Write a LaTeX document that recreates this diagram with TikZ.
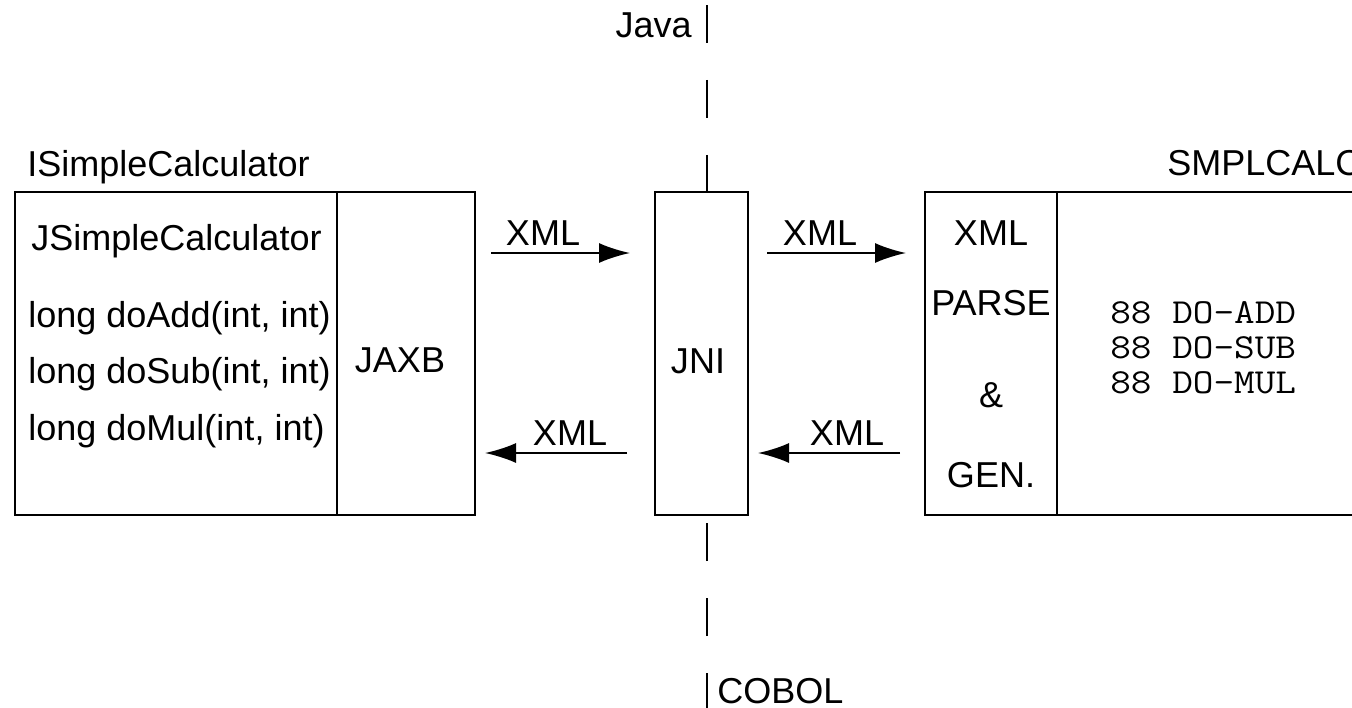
\documentclass[tikz,border=0pt]{standalone}
\usepackage{fontspec}
\setmainfont{Liberation Sans}
\newfontfamily\cobolfont{Latin Modern Mono}[FakeStretch=1.14]
\usetikzlibrary{arrows.meta}

\begin{document}
\begin{tikzpicture}[x=0.02cm, y=-0.02cm,
    font=\fontsize{20.5}{24.6}\selectfont,
    part/.style={draw, line width=1.1pt, outer sep=0, inner sep=0, anchor=north west, minimum height=6.46cm},
    lbl/.style={inner sep=0, anchor=base},
    cobolline/.style={lbl, anchor=base west, font=\fontsize{20}{24}\cobolfont},
    xmlarrow/.style={line width=1.1pt, -{Latex[length=0.62cm, width=0.4cm]}},
    divider/.style={line width=1.1pt, dash pattern=on 0.76cm off 0.74cm}]
  \useasboundingbox (0,0) rectangle (1352,707);
  \clip (0,0) rectangle (1352,707);

  % Java side
  \node[part, minimum width=6.44cm] (iface) at (15,192) {};
  \node[part, minimum width=2.76cm] (jaxb) at (337,192) {};
  \node[lbl, anchor=base west] (ifacename) at (27,176) {ISimpleCalculator};
  \node[lbl, anchor=base west] (jclass) at (31,250) {JSimpleCalculator};
  \node[lbl, anchor=base west] (madd) at (28,327) {long doAdd(int, int)};
  \node[lbl, anchor=base west] (msub) at (28,383) {long doSub(int, int)};
  \node[lbl, anchor=base west] (mmul) at (28,440) {long doMul(int, int)};
  \node[lbl] (jaxbname) at (400,372) {JAXB};

  % bridge
  \node[part, minimum width=1.86cm] (jni) at (655,192) {};
  \node[lbl] (jniname) at (698,373) {JNI};

  % COBOL side
  \node[part, minimum width=2.64cm] (xmlgen) at (925,192) {};
  \node[part, minimum width=10cm] (cobol) at (1057,192) {};
  \node[lbl, anchor=base west] (progname) at (1167,175) {SMPLCALC};
  \node[lbl] (gen1) at (991,245) {XML};
  \node[lbl] (gen2) at (991,315) {PARSE};
  \node[lbl] (gen3) at (991,407) {\&};
  \node[lbl] (gen4) at (991,487) {GEN.};
  \node[cobolline] (lvadd) at (1110,323) {88 DO-ADD};
  \node[cobolline] (lvsub) at (1110,358) {88 DO-SUB};
  \node[cobolline] (lvmul) at (1110,393) {88 DO-MUL};

  % Java / COBOL boundary
  \coordinate (javaend) at (707,5);
  \coordinate (cobolend) at (707,711);
  \draw[divider] (javaend) -- (javaend |- jni.north);
  \draw[divider] (cobolend) -- (cobolend |- jni.south);
  \node[lbl, anchor=base east] (java) at (692,37) {Java};
  \node[lbl, anchor=base west] (cobolname) at (717,703) {COBOL};

  % XML requests and replies
  \coordinate (req1a) at (491,253);
  \coordinate (req1b) at (630,253);
  \coordinate (req2a) at (767,253);
  \coordinate (req2b) at (906,253);
  \coordinate (rep1a) at (627,453);
  \coordinate (rep1b) at (485,453);
  \coordinate (rep2a) at (900,453);
  \coordinate (rep2b) at (758,453);
  \draw[xmlarrow] (req1a) -- (req1b);
  \draw[xmlarrow] (req2a) -- (req2b);
  \draw[xmlarrow] (rep1a) -- (rep1b);
  \draw[xmlarrow] (rep2a) -- (rep2b);
  \node[lbl] (xml1) at (543,245) {XML};
  \node[lbl] (xml2) at (820,245) {XML};
  \node[lbl] (xml3) at (570,445) {XML};
  \node[lbl] (xml4) at (847,445) {XML};
\end{tikzpicture}
\end{document}
